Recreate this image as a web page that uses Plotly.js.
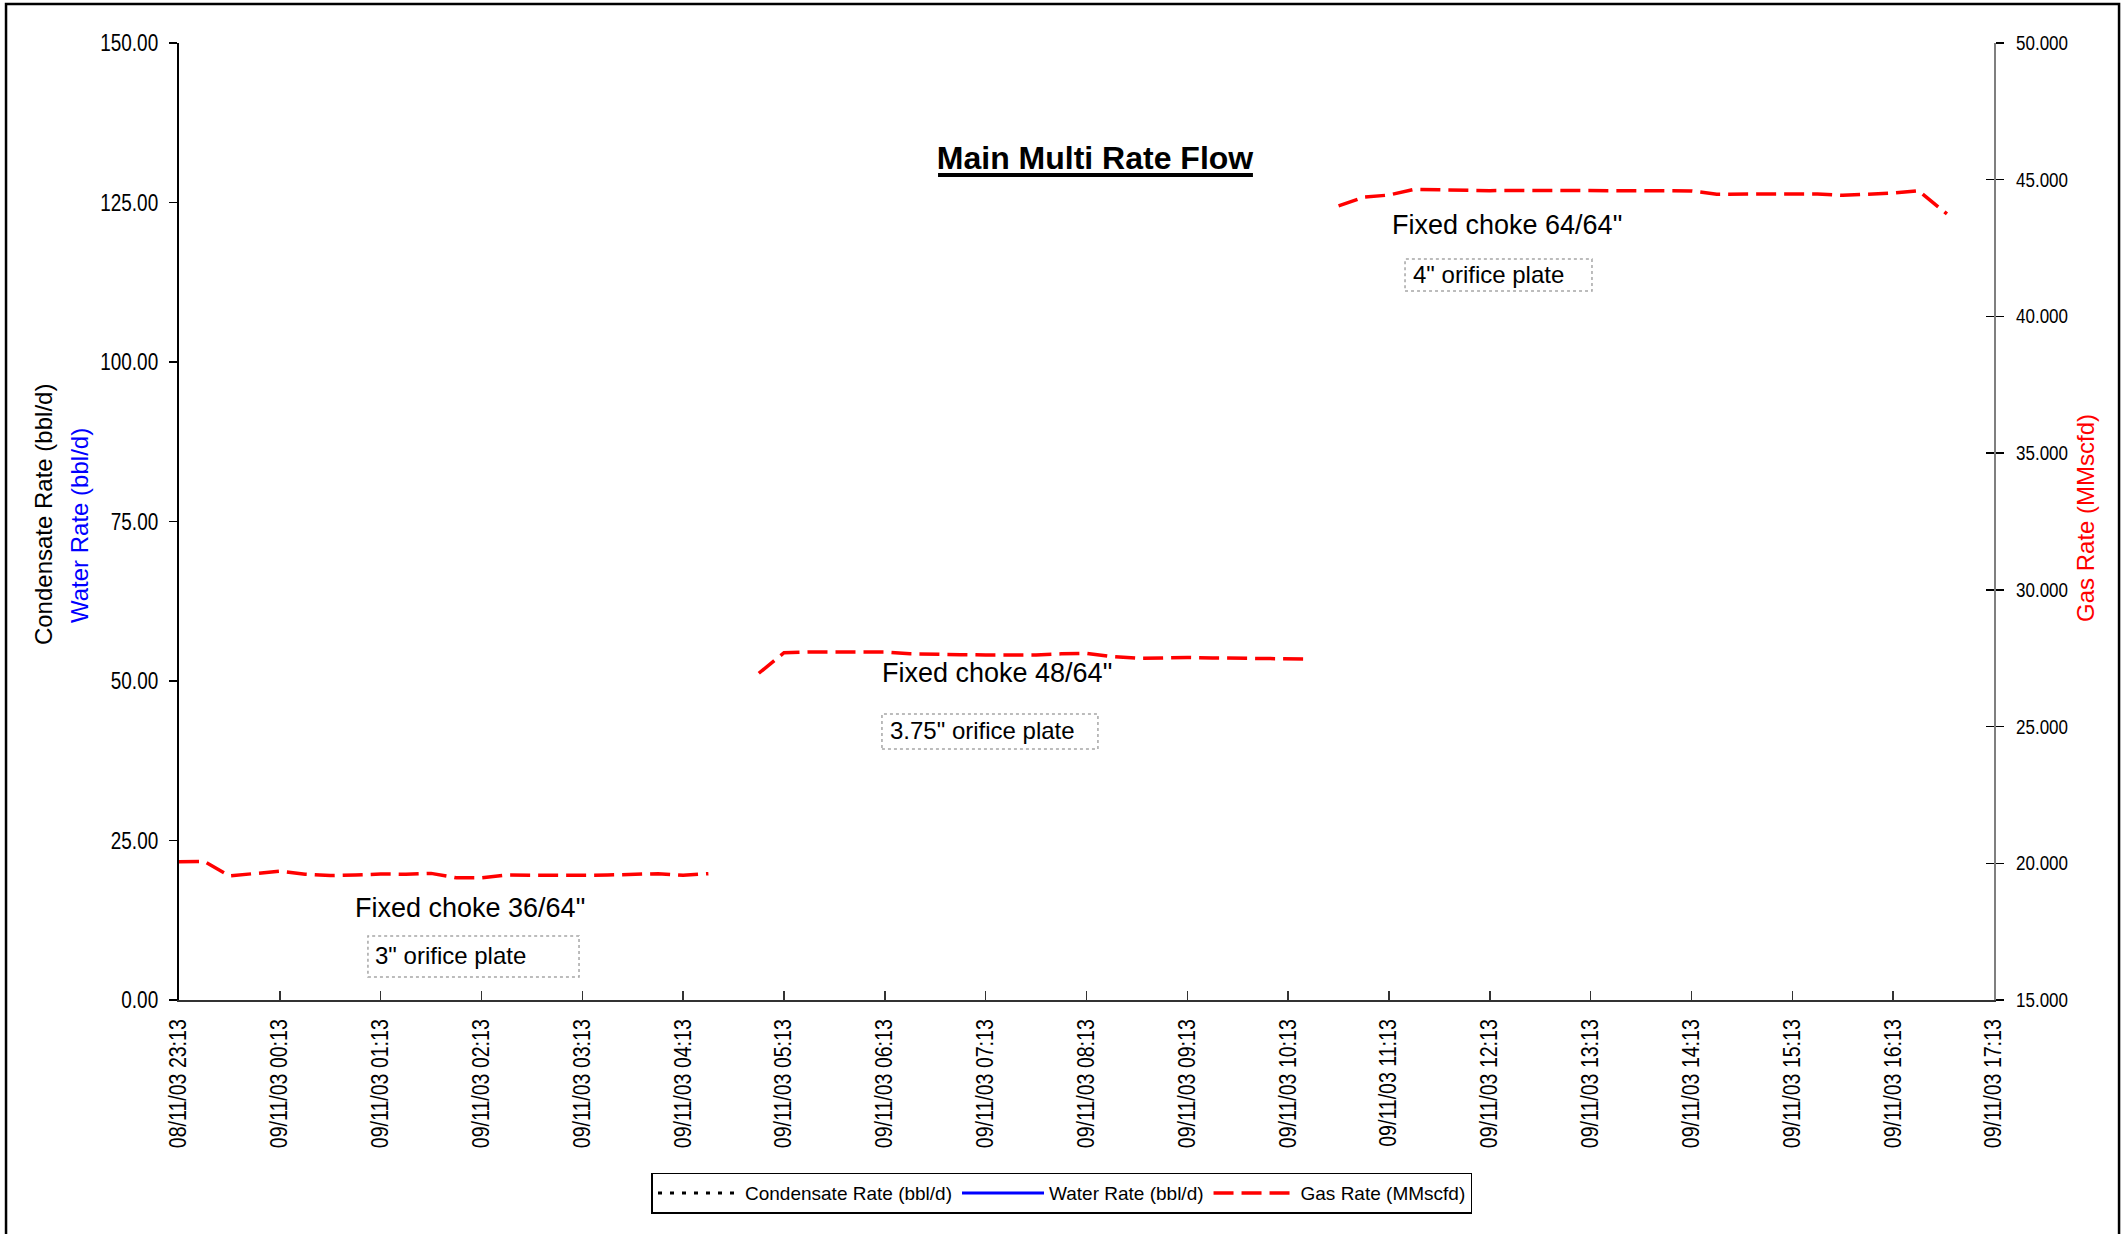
<!DOCTYPE html>
<html>
<head>
<meta charset="utf-8">
<script src="https://cdn.plot.ly/plotly-3.0.1.min.js"></script>
<style>
  html, body { margin: 0; padding: 0; background: #ffffff; }
  #chart { width: 2125px; height: 1234px; }
</style>
</head>
<body>
<div id="chart"></div>
<script>
// Multi-rate flow test: gas rate on the right axis, liquids on the left axis.
// Null entries split the three choke stages into separate line segments.
const gasTime = [
  '2003-11-08 23:13', '2003-11-08 23:28', '2003-11-08 23:43', '2003-11-08 23:58',
  '2003-11-09 00:13', '2003-11-09 00:28', '2003-11-09 00:43', '2003-11-09 00:58',
  '2003-11-09 01:13', '2003-11-09 01:28', '2003-11-09 01:43', '2003-11-09 01:58',
  '2003-11-09 02:13', '2003-11-09 02:28', '2003-11-09 02:43', '2003-11-09 02:58',
  '2003-11-09 03:13', '2003-11-09 03:28', '2003-11-09 03:43', '2003-11-09 03:58',
  '2003-11-09 04:13', '2003-11-09 04:28',
  '2003-11-09 04:43',
  '2003-11-09 04:58', '2003-11-09 05:13', '2003-11-09 05:28', '2003-11-09 05:43',
  '2003-11-09 05:58', '2003-11-09 06:13', '2003-11-09 06:28', '2003-11-09 06:43',
  '2003-11-09 06:58', '2003-11-09 07:13', '2003-11-09 07:28', '2003-11-09 07:43',
  '2003-11-09 07:58', '2003-11-09 08:13', '2003-11-09 08:28', '2003-11-09 08:43',
  '2003-11-09 08:58', '2003-11-09 09:13', '2003-11-09 09:28', '2003-11-09 09:43',
  '2003-11-09 09:58', '2003-11-09 10:13', '2003-11-09 10:25',
  '2003-11-09 10:35',
  '2003-11-09 10:43', '2003-11-09 10:58', '2003-11-09 11:13', '2003-11-09 11:28',
  '2003-11-09 11:43', '2003-11-09 11:58', '2003-11-09 12:13', '2003-11-09 12:28',
  '2003-11-09 12:43', '2003-11-09 12:58', '2003-11-09 13:13', '2003-11-09 13:28',
  '2003-11-09 13:43', '2003-11-09 13:58', '2003-11-09 14:13', '2003-11-09 14:28',
  '2003-11-09 14:43', '2003-11-09 14:58', '2003-11-09 15:13', '2003-11-09 15:28',
  '2003-11-09 15:43', '2003-11-09 15:58', '2003-11-09 16:13', '2003-11-09 16:28',
  '2003-11-09 16:45'
];

// Gas rate, MMscfd
const gasRate = [
  20.06, 20.07, 19.54, 19.62,
  19.71, 19.60, 19.55, 19.57,
  19.61, 19.60, 19.63, 19.47,
  19.47, 19.57, 19.56, 19.56,
  19.56, 19.57, 19.61, 19.62,
  19.56, 19.62,
  null,
  26.95, 27.70, 27.73, 27.73,
  27.73, 27.73, 27.66, 27.66,
  27.63, 27.62, 27.62, 27.62,
  27.66, 27.68, 27.56, 27.50,
  27.51, 27.53, 27.51, 27.50,
  27.48, 27.48, 27.47,
  null,
  44.04, 44.36, 44.44, 44.65,
  44.63, 44.60, 44.60, 44.61,
  44.61, 44.60, 44.58, 44.58,
  44.59, 44.59, 44.59, 44.47,
  44.47, 44.48, 44.48, 44.48,
  44.43, 44.48, 44.51, 44.60,
  43.75
];

// Liquid rates, bbl/d (no readings logged in this period)
const condensateTime = ['2003-11-08 23:13'];
const condensateRate = [null];
const waterTime = ['2003-11-08 23:13'];
const waterRate = [null];

// Axis ranges and stage notes
const timeRange = ['2003-11-08 23:13', '2003-11-09 17:13'];
const liquidRange = [0, 150];
const gasRange = [15, 50];
const chokeNotes = ['Fixed choke 36/64"', 'Fixed choke 48/64"', 'Fixed choke 64/64"'];
const plateNotes = ['3" orifice plate', '3.75" orifice plate', '4" orifice plate'];

const narrow = '"Liberation Sans Narrow", "Arial Narrow", "Liberation Sans", Arial, sans-serif';
const sans = '"Liberation Sans", Arial, sans-serif';

const traces = [
  {
    x: condensateTime, y: condensateRate, name: 'Condensate Rate (bbl/d)',
    type: 'scatter', mode: 'lines', yaxis: 'y', showlegend: true,
    line: { color: '#000000', width: 3, dash: '4px,8px' }
  },
  {
    x: waterTime, y: waterRate, name: 'Water Rate (bbl/d)',
    type: 'scatter', mode: 'lines', yaxis: 'y', showlegend: true,
    line: { color: '#0000ff', width: 3 }
  },
  {
    x: gasTime, y: gasRate, name: 'Gas Rate (MMscfd)',
    type: 'scatter', mode: 'lines', yaxis: 'y2', connectgaps: false, showlegend: true,
    line: { color: '#ff0000', width: 3.5, dash: '20px,8px' }
  },
  {
    // carries the inner half of the right-hand tick marks
    x: [], y: [], yaxis: 'y3', showlegend: false, hoverinfo: 'skip',
    type: 'scatter', mode: 'lines'
  }
];

// Stage label placement in paper units
const chokePos = [[0.1603, 0.0961], [0.4507, 0.3417], [0.7317, 0.8098]];
const platePos = [[0.1069, 0.0460], [0.3906, 0.2811], [0.6788, 0.7576]];
const plateBox = [
  [0.1041, 0.0240, 0.2204, 0.0669],
  [0.3873, 0.2623, 0.5063, 0.2989],
  [0.6755, 0.7409, 0.7785, 0.7743]
];

const annotations = [];
const shapes = [];
chokeNotes.forEach((t, i) => {
  annotations.push({
    text: t, xref: 'paper', yref: 'paper', x: chokePos[i][0], y: chokePos[i][1],
    xanchor: 'center', yanchor: 'middle', showarrow: false,
    font: { family: sans, size: 27, color: '#000000' }
  });
  annotations.push({
    text: plateNotes[i], xref: 'paper', yref: 'paper', x: platePos[i][0], y: platePos[i][1],
    xanchor: 'left', yanchor: 'middle', showarrow: false,
    font: { family: sans, size: 24, color: '#000000' }
  });
  const b = plateBox[i];
  shapes.push({
    type: 'rect', xref: 'paper', yref: 'paper', x0: b[0], y0: b[1], x1: b[2], y1: b[3],
    line: { color: '#a6a6a6', width: 1.5, dash: 'dot' }, fillcolor: 'rgba(0,0,0,0)'
  });
});

// Axis titles
annotations.push({
  text: 'Condensate Rate (bbl/d)', xref: 'paper', yref: 'paper', x: -0.0749, y: 0.5078,
  textangle: -90, xanchor: 'center', yanchor: 'middle', showarrow: false,
  font: { family: sans, size: 24, color: '#000000' }
});
annotations.push({
  text: 'Water Rate (bbl/d)', xref: 'paper', yref: 'paper', x: -0.0551, y: 0.4963,
  textangle: -90, xanchor: 'center', yanchor: 'middle', showarrow: false,
  font: { family: sans, size: 24, color: '#0000ff' }
});
annotations.push({
  text: 'Gas Rate (MMscfd)', xref: 'paper', yref: 'paper', x: 1.0507, y: 0.5037,
  textangle: -90, xanchor: 'center', yanchor: 'middle', showarrow: false,
  font: { family: sans, size: 24, color: '#ff0000' }
});

// Title underline
shapes.push({
  type: 'line', xref: 'paper', yref: 'paper', x0: 0.4182, x1: 0.5917, y0: 0.8621, y1: 0.8621,
  line: { color: '#000000', width: 4 }
});

// Outer frame of the chart sheet
shapes.push({
  type: 'rect', xref: 'paper', yref: 'paper',
  x0: -0.0953, x1: 1.0689, y0: -0.2508, y1: 1.0408,
  line: { color: '#000000', width: 2.5 }, fillcolor: 'rgba(0,0,0,0)'
});

const layout = {
  width: 2125, height: 1234,
  margin: { l: 179, r: 131, t: 43, b: 234, pad: 0 },
  paper_bgcolor: '#ffffff', plot_bgcolor: '#ffffff',
  font: { family: sans, color: '#000000' },
  title: {
    text: '<b>Main Multi Rate Flow</b>',
    xref: 'paper', x: 0.5047, xanchor: 'center',
    yref: 'container', y: 0.872, yanchor: 'middle',
    font: { family: sans, size: 32, color: '#000000' }
  },
  showlegend: true,
  legend: {
    orientation: 'h', xref: 'paper', yref: 'paper', x: 0.4865, y: -0.2017,
    xanchor: 'center', yanchor: 'middle',
    bordercolor: '#000000', borderwidth: 1.5, bgcolor: '#ffffff',
    font: { family: sans, size: 19, color: '#000000' },
    itemwidth: 82, traceorder: 'normal'
  },
  xaxis: {
    type: 'date', range: timeRange,
    tick0: timeRange[0], dtick: 3600000, tickformat: '%d/%m/%y %H:%M',
    tickangle: -90, ticks: 'inside', ticklen: 9, tickwidth: 1.5, tickcolor: '#333333',
    showline: true, linecolor: '#333333', linewidth: 2,
    showgrid: false, zeroline: false, ticklabelstandoff: 8,
    tickfont: { family: narrow, size: 23, color: '#000000' }
  },
  yaxis: {
    range: liquidRange, dtick: 25, tickformat: '.2f',
    ticks: 'outside', ticklen: 8, tickwidth: 1.5, tickcolor: '#000000',
    showline: true, linecolor: '#000000', linewidth: 2,
    showgrid: false, zeroline: false, ticklabelstandoff: 6,
    tickfont: { family: narrow, size: 24, color: '#000000' }
  },
  yaxis2: {
    range: gasRange, dtick: 5, tickformat: '.3f', overlaying: 'y', side: 'right',
    ticks: 'outside', ticklen: 8, tickwidth: 1.5, tickcolor: '#000000',
    showline: true, linecolor: '#7f7f7f', linewidth: 2,
    showgrid: false, zeroline: false, ticklabelstandoff: 8,
    tickfont: { family: narrow, size: 20, color: '#000000' }
  },
  yaxis3: {
    range: gasRange, dtick: 5, overlaying: 'y', side: 'right',
    ticks: 'inside', ticklen: 8, tickwidth: 1.5, tickcolor: '#000000',
    showline: false, showgrid: false, zeroline: false, showticklabels: false
  },
  annotations: annotations,
  shapes: shapes
};

// Tick labels are set in a condensed face: fit each label to a fixed share
// of its regular-width length so the squeeze does not depend on the fonts present.
const measureCtx = document.createElement('canvas').getContext('2d');
function condense(selector, size, factor) {
  measureCtx.font = size + 'px "Liberation Sans", Arial, sans-serif';
  document.querySelectorAll(selector).forEach(function (t) {
    const w = measureCtx.measureText(t.textContent).width;
    if (w > 0) {
      t.setAttribute('textLength', (w * factor).toFixed(1));
      t.setAttribute('lengthAdjust', 'spacingAndGlyphs');
    }
  });
}

Plotly.newPlot('chart', traces, layout, { staticPlot: true, displayModeBar: false })
  .then(function () {
    condense('.xtick text', 23, 0.85);
    condense('.ytick text', 24, 0.79);
    condense('.y2tick text', 20, 0.85);
  });
</script>
</body>
</html>
